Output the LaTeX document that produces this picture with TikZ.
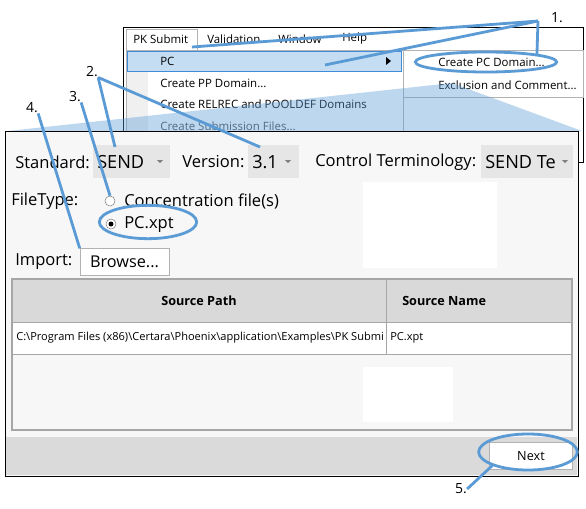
\documentclass[tikz,border=0pt]{standalone}
\usepackage{fontspec}
\setmainfont{Open Sans}
\usetikzlibrary{shapes.geometric}
\definecolor{calloutblue}{HTML}{5B9BD5}
\definecolor{selblue}{HTML}{C4DDF3}
\definecolor{selline}{HTML}{3F8CDA}
\definecolor{dlgbg}{HTML}{F7F7F7}
\definecolor{combo}{HTML}{E6E6E6}
\definecolor{header}{HTML}{D9D9D9}
\definecolor{footer}{HTML}{DADADA}
\tikzstyle{menutext}=[anchor=west, inner sep=0pt, font=\fontsize{8.6}{10}\selectfont]
\tikzstyle{dlgtext}=[anchor=west, inner sep=0pt, font=\fontsize{12.4}{14}\selectfont]
\tikzstyle{bigtext}=[dlgtext, font=\fontsize{13.6}{15}\selectfont]
\tikzstyle{cell}=[anchor=west, inner sep=0pt, font=\fontsize{8.3}{9}\selectfont]
\tikzstyle{head}=[inner sep=0pt, font=\fontsize{9.5}{11}\selectfont\bfseries]
\tikzstyle{button}=[draw=gray!60, fill=white, minimum height=20pt, font=\fontsize{12.2}{14}\selectfont]
\tikzstyle{radio}=[circle, draw=gray, fill=white, minimum size=7.5pt, inner sep=0pt]
\tikzstyle{stepno}=[inner sep=0pt, font=\fontsize{10.5}{12}\selectfont]
\tikzstyle{callout}=[draw=calloutblue, line width=2.1pt]
\tikzstyle{ring}=[ellipse, draw=calloutblue, line width=2.1pt, inner sep=0pt]

\begin{document}
\begin{tikzpicture}[x=0.75pt,y=-0.75pt]
  \useasboundingbox (0,0) rectangle (586,508);
  % menu
  \draw[fill=white] (123,27) rectangle (583,162);
  \fill[gray!12] (126,50) rectangle (148,162);
  \draw[gray!60] (126,50) rectangle (403,165);
  \draw[gray!60] (403,50) rectangle (583,97);
  \draw[gray!60] (126,50) |- (197,29) -- (197,50);
  \draw[draw=selline, fill=selblue] (127,51) rectangle (401,71);
  \node[menutext] (pksubmit) at (133,39) {PK Submit};
  \node[menutext] (validation) at (207,39) {Validation};
  \node[menutext] (window) at (278,39) {Window};
  \node[menutext] (help) at (342,39) {Help};
  \node[menutext] (pc) at (160,61) {PC};
  \fill (386,57) -- (391,61) -- (386,65) -- cycle;
  \node[menutext] (ppdom) at (160,83) {Create PP Domain...};
  \node[menutext] (relrec) at (160,104) {Create RELREC and POOLDEF Domains};
  \node[menutext, gray!60!black] (subfiles) at (160,126) {Create Submission Files...};
  \node[menutext] (pcdom) at (438,62) {Create PC Domain...};
  \node[menutext] (excl) at (438,85) {Exclusion and Comment...};
  \fill[calloutblue, opacity=0.4] (8,131) -- (452,83) -- (582,131) -- cycle;
  % dialog
  \draw[fill=dlgbg] (5,131) rectangle (578,476);
  \fill[combo] (93,145) rectangle (170,178);
  \fill[combo] (248,145) rectangle (299,178);
  \fill[combo] (481,145) rectangle (573,178);
  \node[dlgtext] (standard) at (15,162) {Standard:};
  \node[bigtext] (send) at (97,162) {SEND};
  \fill[gray] (157,160) -- (163,160) -- (160,163) -- cycle;
  \node[dlgtext] (version) at (182,162) {Version:};
  \node[bigtext] (vers) at (252,162) {3.1};
  \fill[gray] (285,160) -- (291,160) -- (288,163) -- cycle;
  \node[dlgtext] (ctrl) at (315,162) {Control Terminology:};
  \begin{scope}
    \clip (481,145) rectangle (556,178);
    \node[bigtext] (term) at (485,162) {SEND Ter};
  \end{scope}
  \fill[gray] (562,160) -- (568,160) -- (565,163) -- cycle;
  \node[dlgtext] (filetype) at (11,201) {FileType:};
  \node[radio] (conc) at (110,201) {};
  \node[dlgtext] (concfile) at (124,201) {Concentration file(s)};
  \node[radio] (pcsel) at (111,224) {};
  \fill (pcsel) circle (2.5);
  \node[dlgtext] (pcxpt) at (124,224) {PC.xpt};
  \fill[white] (363,182) rectangle (497,268);
  \node[dlgtext] (import) at (15,262) {Import:};
  \node[button, minimum width=66.75pt] (browse) at (124.5,262) {Browse...};
  % table
  \fill[header] (12,279) rectangle (572,322);
  \fill[white] (12,322) rectangle (572,354);
  \draw[gray!70, line width=1pt] (12,279) rectangle (572,430);
  \draw[gray!70] (12,322) -- (572,322) (12,354) -- (572,354) (386,279) -- (386,354);
  \node[head] (srcpath) at (199,301) {Source Path};
  \node[head, anchor=west] (srcname) at (402,301) {Source Name};
  \begin{scope}
    \clip (12,322) rectangle (385,354);
    \node[cell] (path) at (16,338) {C:\textbackslash Program Files (x86)\textbackslash Certara\textbackslash Phoenix\textbackslash application\textbackslash Examples\textbackslash PK Submi};
  \end{scope}
  \node[cell] (name) at (390,338) {PC.xpt};
  \fill[white] (363,367) rectangle (453,422);
  \fill[footer] (6,437) rectangle (577,475);
  \node[button, minimum width=62.25pt, font=\fontsize{9.5}{11}\selectfont] (next) at (531,456) {Next};
  % callouts
  \node[ring, minimum width=106pt, minimum height=15pt] (ringpcdom) at (486,62) {};
  \node[ring, minimum width=73pt, minimum height=25pt] (ringpc) at (148,222) {};
  \node[ring, minimum width=74pt, minimum height=27pt] (ringnext) at (528,452) {};
  \node[stepno] (s1) at (557,18) {1.};
  \node[stepno] (s2) at (92,72) {2.};
  \node[stepno] (s3) at (75,97) {3.};
  \node[stepno] (s4) at (32,108) {4.};
  \node[stepno] (s5) at (461,489) {5.};
  \coordinate (hub1) at (538,21);
  \coordinate (tab) at (192,47);
  \coordinate (pcitem) at (325,65);
  \coordinate (sendtop) at (115,147);
  \coordinate (verstop) at (260,147);
  \draw[callout] (hub1) -- (tab);
  \draw[callout] (hub1) -- (pcitem);
  \draw[callout] (hub1) -- (ringpcdom.north east);
  \draw[callout] (s2.south east) -- (sendtop);
  \draw[callout] (s2.south east) -- (verstop);
  \draw[callout] (s3.south east) -- (conc.north);
  \draw[callout] (s4.south east) -- (browse.north west);
  \draw[callout] (s5.east) -- (ringnext.south west);
\end{tikzpicture}
\end{document}
